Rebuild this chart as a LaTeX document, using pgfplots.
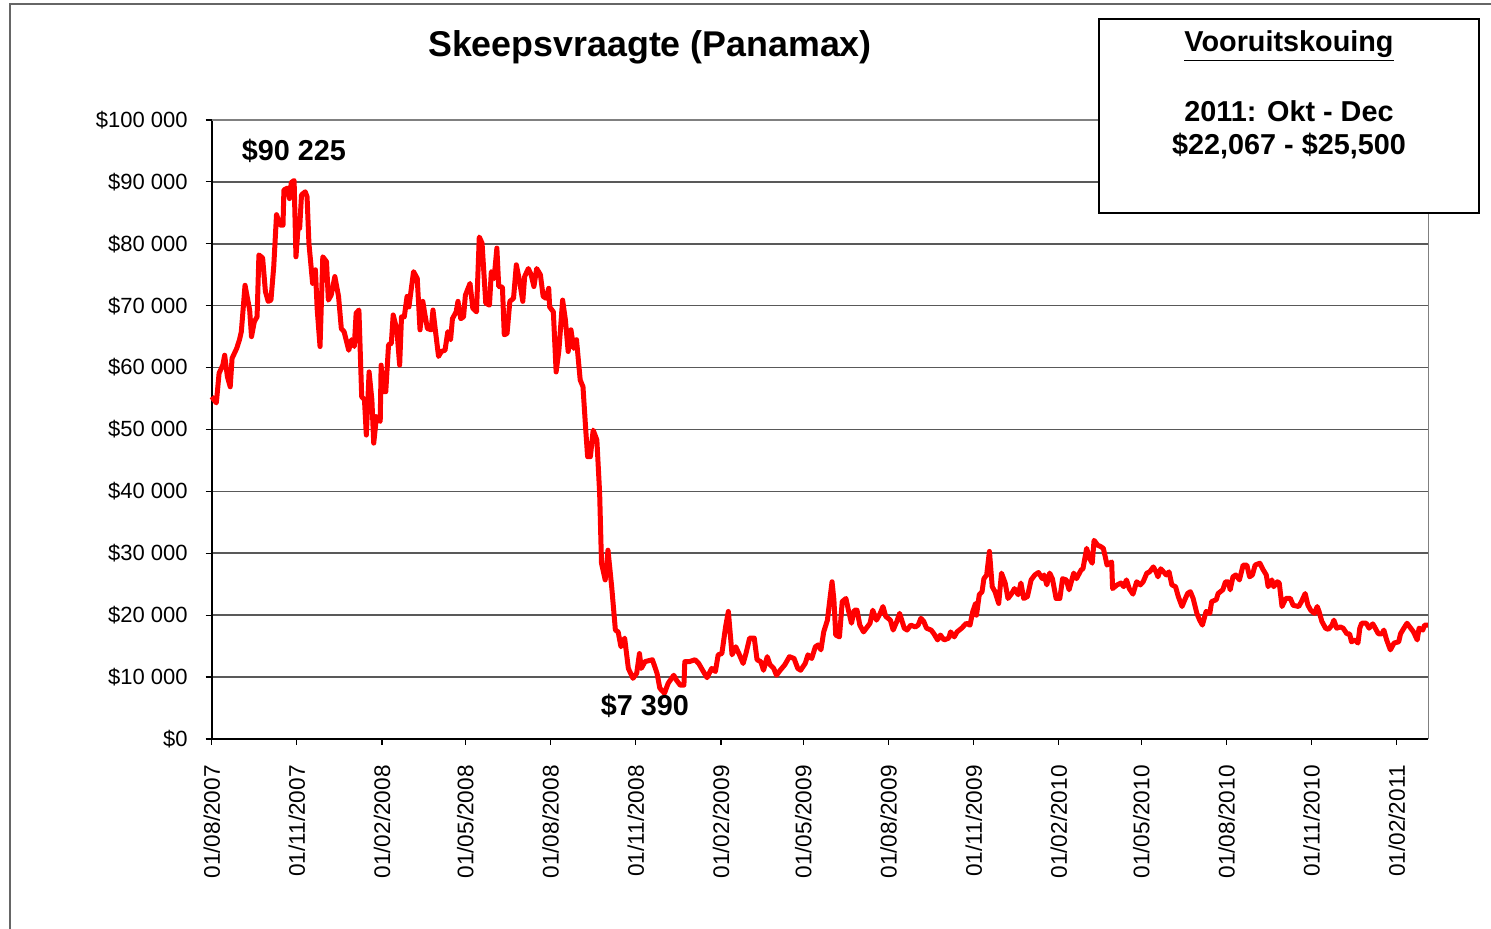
\documentclass[border=0pt]{standalone}
\usepackage{pgfplots}
\pgfplotsset{compat=1.18}
\usepackage{pgfplotstable}
\usepackage{fontspec}
\setmainfont{Liberation Sans}
\pgfplotstableread{
x y
0 55300
5 54300
8 59100
12 60400
14 62000
17 58500
20 56900
22 61500
27 63100
30 64500
32 65800
36 73300
41 69300
43 65000
46 67400
49 68200
51 78200
55 77700
58 72300
61 70700
64 70900
67 76300
70 84700
74 83000
77 83000
78 88700
82 89000
84 87300
86 89900
89 90225
91 77900
94 84100
95 82500
97 87900
101 88400
103 87600
105 80100
109 73600
112 75800
114 69300
117 63400
120 77900
124 77100
126 70900
129 71700
133 74700
137 71500
140 66300
143 65800
148 62800
151 64500
154 63400
156 68800
159 69300
162 55300
165 54800
167 49100
170 59300
173 54800
175 47800
178 52100
182 51300
183 60400
185 56100
188 56100
191 63700
194 63900
196 68500
200 66100
203 60400
205 68200
208 68200
211 71500
213 69800
218 75500
222 74400
225 66100
228 70700
230 68800
233 66300
237 66100
239 69300
242 65500
245 61800
248 62600
252 62800
255 65800
258 64500
260 67900
264 69000
266 70700
269 67900
272 68200
274 71700
279 73600
282 69600
286 69000
289 81100
292 80100
296 70400
300 70100
302 75500
305 74400
308 79300
310 73100
314 73000
316 65300
319 65500
322 70700
326 71200
329 76600
332 74400
336 70700
338 74700
342 76000
345 75000
348 73100
351 76000
355 75000
358 71500
361 71200
364 72800
365 69800
369 69000
372 59300
375 62800
379 70900
382 67700
385 62600
388 66100
391 63100
394 64500
398 58000
401 56900
404 49900
406 45600
409 45600
412 49900
416 48300
419 39700
421 28400
425 25700
428 30500
432 24600
436 17600
439 17300
442 14900
446 16300
450 11400
455 9800
459 10600
462 13800
464 11400
468 12500
476 12800
481 10600
484 8200
489 7390
493 9000
499 10300
502 9500
506 8700
510 8700
511 12500
516 12500
522 12800
526 12200
531 10900
535 9900
540 11400
544 10900
547 13600
551 13800
555 18100
558 20600
562 13600
566 14900
570 13600
574 12200
577 13800
581 16300
586 16300
589 12800
593 12500
596 11100
600 13300
603 12000
607 11400
610 10300
614 11100
619 12000
624 13300
629 13000
633 11400
636 11100
641 12200
644 13600
648 13000
652 14900
655 15200
658 14400
661 17300
665 19200
668 23000
670 25400
672 22500
674 16800
678 16500
681 22200
685 22700
688 20600
691 18700
694 20800
697 20800
700 18400
704 17300
708 18100
711 18700
714 20800
718 19200
722 20300
725 21400
728 19800
733 19200
736 17600
740 19000
743 20300
748 17900
751 17600
755 18400
760 18100
763 18400
766 19500
769 19000
772 17900
777 17600
780 17000
784 16000
787 16800
791 16000
796 16300
798 17300
802 16500
805 17300
810 17900
815 18700
819 18400
822 20600
825 21900
826 20000
829 23300
832 23800
834 25900
837 26500
840 30300
843 24600
846 23800
850 21900
853 26800
857 25200
860 22700
864 23500
867 24300
871 23300
874 25200
877 22700
881 23000
885 25700
889 26500
893 26900
897 25900
899 26500
902 24900
905 26800
908 25900
912 22700
916 22700
919 25900
923 25700
926 24100
931 26800
934 25900
939 27300
941 27500
945 30800
948 29200
951 28400
953 32100
957 31300
960 31100
963 30800
965 29500
967 28100
970 28400
972 28600
973 24300
978 24900
982 25200
985 24600
988 25700
991 24300
995 23400
999 25400
1003 24900
1006 25400
1010 26800
1013 27000
1017 27800
1020 27000
1022 26200
1025 27500
1028 27000
1031 26500
1034 27000
1037 24900
1041 24600
1044 23000
1048 21400
1051 22500
1054 23500
1057 23800
1060 22700
1064 20300
1067 19200
1070 18400
1074 20600
1078 20300
1080 22200
1085 22500
1087 23500
1092 24100
1095 25400
1098 25400
1100 24100
1103 26200
1106 26500
1110 25700
1114 28100
1118 28100
1121 26200
1124 26500
1127 28100
1132 28400
1135 27500
1139 26500
1141 24600
1145 25700
1147 24600
1151 25400
1153 25200
1156 21400
1160 22700
1165 22700
1168 21600
1174 21400
1177 22200
1181 23500
1184 21600
1187 20800
1191 20300
1194 21400
1196 20600
1199 19000
1203 17900
1206 17700
1210 18400
1212 19200
1215 17900
1219 18100
1222 17900
1226 17000
1229 17000
1231 15700
1235 16000
1238 15500
1240 17900
1242 18700
1247 18700
1250 17900
1254 18600
1256 18100
1260 17000
1264 17000
1266 17600
1269 16000
1273 14400
1277 15500
1282 15700
1284 17000
1288 18000
1291 18700
1295 17900
1298 17300
1302 16000
1304 17900
1308 17600
1310 18400
1314 18400
}\rates
\begin{document}
\begin{tikzpicture}[x=1pt,y=1pt]
\path[use as bounding box] (0,0) rectangle (745.5,464.5);
\draw[gray!80!black, line width=0.6pt] (5,0) -- (5,462.5) -- (745.5,462.5);
\begin{axis}[
  at={(105.85pt,95pt)}, anchor=south west,
  width=608.3pt, height=309.5pt, scale only axis,
  xmin=0, xmax=1314, ymin=0, ymax=100000,
  scaled y ticks=false, scaled x ticks=false,
  axis x line*=bottom, axis y line*=left,
  axis line style={-, black, line width=0.8pt},
  tick align=outside, major tick length=3pt,
  tick style={black, line width=0.6pt},
  xtick={0,92,184,274,366,458,550,639,731,823,915,1004,1096,1188,1280},
  xticklabels={01/08/2007,01/11/2007,01/02/2008,01/05/2008,01/08/2008,01/11/2008,01/02/2009,01/05/2009,01/08/2009,01/11/2009,01/02/2010,01/05/2010,01/08/2010,01/11/2010,01/02/2011},
  xticklabel style={rotate=90, anchor=east, font=\fontsize{11.3}{11.3}\selectfont, inner sep=0pt, xshift=-10pt},
  ytick={0,10000,...,100000},
  yticklabels={\$0,\$10 000,\$20 000,\$30 000,\$40 000,\$50 000,\$60 000,\$70 000,\$80 000,\$90 000,\$100 000},
  yticklabel style={anchor=east, font=\fontsize{11}{11}\selectfont, inner sep=0pt, xshift=-8.8pt},
  ymajorgrids, major grid style={black!65, line width=0.8pt},
  clip=false,
]
\addplot[red, line width=2.5pt, line join=round, no markers] table[x=x,y=y] {\rates};
\draw[gray, line width=0.8pt] (rel axis cs:0,1) -- (rel axis cs:1,1) -- (rel axis cs:1,0);
\end{axis}
\node[font=\fontsize{17.9}{18}\selectfont\bfseries] at (325,441) {Skeepsvraagte (Panamax)};
\node[font=\fontsize{14.4}{15}\selectfont\bfseries] at (147,389) {\$90 225};
\node[font=\fontsize{14.4}{15}\selectfont\bfseries] at (322.5,111.5) {\$7 390};
\draw[black, line width=1pt, fill=white] (549.5,455) rectangle (739.5,358);
\node[font=\fontsize{14.4}{15}\selectfont\bfseries] at (644.5,441.5) {\underline{Vooruitskouing}};
\node[font=\fontsize{14.4}{15}\selectfont\bfseries] at (644.5,409) {2011: Okt - Dec};
\node[font=\fontsize{14.4}{15}\selectfont\bfseries] at (644.5,391.5) {\$22,067 - \$25,500};
\end{tikzpicture}
\end{document}
